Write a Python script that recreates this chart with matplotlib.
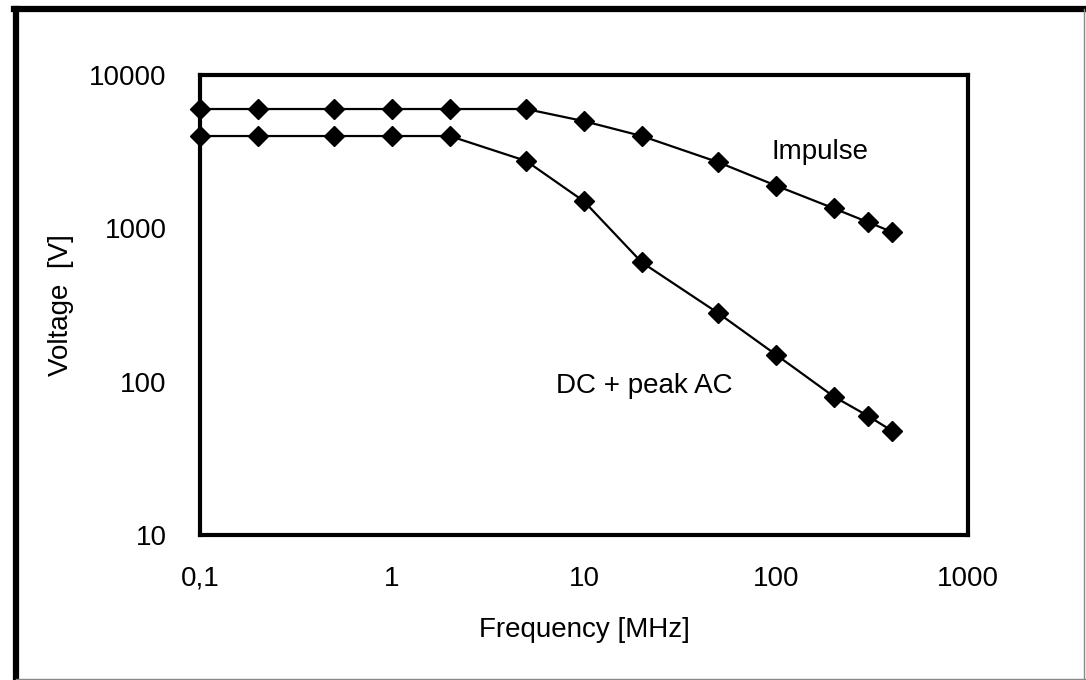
import matplotlib.pyplot as plt
from matplotlib.lines import Line2D
from matplotlib.ticker import FixedLocator, FixedFormatter, NullLocator

plt.rcParams['font.family'] = ['Liberation Sans', 'DejaVu Sans']

# frequency points [MHz]
freq = [0.1, 0.2, 0.5, 1, 2, 5, 10, 20, 50, 100, 200, 300, 400]
# breakdown voltages [V]
impulse = [6000, 6000, 6000, 6000, 6000, 6000, 5000, 4000, 2700, 1900, 1350, 1100, 950]
dc_ac = [4000, 4000, 4000, 4000, 4000, 2750, 1500, 600, 280, 150, 80, 60, 48]

x_ticks = [0.1, 1, 10, 100, 1000]
x_labels = ["0,1", "1", "10", "100", "1000"]
y_ticks = [10, 100, 1000, 10000]
y_labels = ["10", "100", "1000", "10000"]

fig = plt.figure(figsize=(10.86, 6.8), dpi=100)
ax = fig.add_axes([0.1842, 0.2132, 0.7071, 0.6765])

for y in (impulse, dc_ac):
    ax.plot(freq, y, color="black", lw=1.6, marker="D", markersize=10.5,
            markerfacecolor="black", markeredgecolor="black", clip_on=False)

ax.set_xscale("log")
ax.set_yscale("log")
ax.set_xlim(0.1, 1000)
ax.set_ylim(10, 10000)

ax.xaxis.set_major_locator(FixedLocator(x_ticks))
ax.xaxis.set_major_formatter(FixedFormatter(x_labels))
ax.xaxis.set_minor_locator(NullLocator())
ax.yaxis.set_major_locator(FixedLocator(y_ticks))
ax.yaxis.set_major_formatter(FixedFormatter(y_labels))
ax.yaxis.set_minor_locator(NullLocator())

ax.tick_params(axis="x", length=0, pad=22, labelsize=20)
ax.tick_params(axis="y", length=0, pad=24, labelsize=20)

for s in ax.spines.values():
    s.set_linewidth(3)

ax.set_xlabel("Frequency [MHz]", fontsize=20, labelpad=18)
ax.set_ylabel("Voltage  [V]", fontsize=20, labelpad=11)

ax.text(95, 3150, "Impulse", fontsize=20, va="center", ha="left")
ax.text(7.15, 94, "DC + peak AC", fontsize=20, va="center", ha="left")

# page frame
fig.add_artist(Line2D([0.0125, 1.0], [0.987, 0.987], color="black", lw=4.5,
                      transform=fig.transFigure))
fig.add_artist(Line2D([0.0148, 0.0148], [0.987, 0.0], color="black", lw=4.5,
                      transform=fig.transFigure))
fig.add_artist(Line2D([0.9985, 0.9985], [0.987, 0.0], color="#888888", lw=1,
                      transform=fig.transFigure))
fig.add_artist(Line2D([0.0148, 1.0], [0.002, 0.002], color="#888888", lw=1,
                      transform=fig.transFigure))

fig.savefig("out.png", dpi=100)
